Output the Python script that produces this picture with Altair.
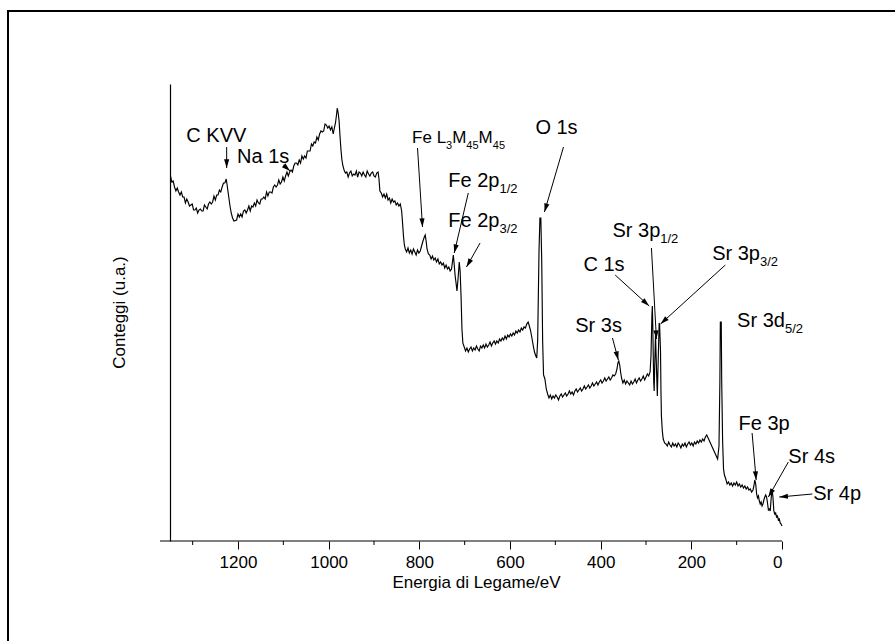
import math
import re

import altair as alt
import pandas as pd

# XPS survey spectrum, binding energy (eV) and counts (arbitrary units), region by region
e_ckvv = [1349, 1346, 1343, 1340, 1337, 1334, 1331, 1328, 1325, 1322, 1319, 1316, 1313, 1310,
          1307, 1304, 1301, 1298, 1295, 1292, 1289, 1286, 1283, 1280, 1277, 1274, 1271, 1268,
          1265, 1262, 1259, 1256, 1253, 1250, 1247, 1244, 1241, 1238, 1235, 1232, 1229, 1226,
          1224, 1221, 1218, 1215, 1212, 1209]
c_ckvv = [365, 359, 360, 354, 350, 353, 349, 346, 349, 344, 344, 338, 342, 339,
          335, 336, 337, 331, 331, 333, 328, 331, 332, 330, 330, 336, 334, 332,
          337, 339, 337, 339, 345, 341, 346, 346, 351, 349, 354, 358, 358, 362,
          356, 346, 336, 328, 323, 320]

e_okll = [1203, 1200, 1197, 1194, 1191, 1188, 1185, 1182, 1179, 1176, 1173, 1170, 1167, 1164,
          1161, 1158, 1155, 1152, 1149, 1146, 1143, 1140, 1137, 1134, 1131, 1128, 1125, 1122,
          1119, 1116, 1113, 1110, 1107, 1104, 1101, 1098, 1095, 1092, 1089, 1086, 1083, 1080,
          1077, 1074, 1071, 1068, 1065, 1062, 1059, 1056, 1053, 1050, 1047, 1044, 1041, 1038,
          1035, 1032, 1029, 1026, 1023, 1020, 1017, 1014, 1011, 1008, 1005, 1002, 999, 996,
          993, 990, 987, 985, 983, 981, 979, 977, 975, 973, 971, 969, 966, 963]
c_okll = [321, 327, 324, 327, 324, 330, 331, 328, 331, 335, 330, 335, 334, 338,
          335, 341, 338, 337, 342, 342, 344, 342, 349, 345, 349, 349, 348, 354,
          356, 354, 356, 361, 357, 359, 364, 360, 365, 369, 365, 369, 371, 369,
          375, 378, 378, 376, 381, 378, 385, 382, 385, 383, 390, 390, 390, 397,
          395, 399, 398, 404, 401, 407, 410, 409, 410, 417, 416, 413, 415, 411,
          414, 407, 414, 418, 425, 433, 428, 420, 405, 392, 382, 376, 371, 368]

e_plateau = [960, 957, 954, 951, 948, 945, 942, 939, 936, 933, 930, 927, 924, 921, 918, 915,
             912, 909, 906, 903, 900, 897, 894, 891, 889, 887,
             884, 881, 878, 875, 872, 869, 866, 863, 860, 857, 854, 851, 848, 845, 842,
             839, 837, 835, 833]
c_plateau = [369, 364, 368, 370, 365, 367, 366, 370, 364, 369, 368, 365, 369, 366, 364, 370,
             367, 365, 368, 369, 365, 364, 368, 369, 362, 350,
             348, 344, 347, 343, 347, 341, 343, 338, 342, 339, 340, 336, 338, 335, 337,
             330, 318, 305, 296]

e_fe = [831, 828, 825, 822, 819, 816, 813, 810, 807, 804, 801, 798, 795, 792, 789, 787,
        785, 783, 780, 777, 774, 771, 768, 765, 762, 759, 756, 753, 750, 747, 744, 741,
        738, 735, 732, 729, 727, 725, 723, 721, 719, 717, 715, 713, 712, 710, 708, 706, 704]
c_fe = [292, 289, 293, 288, 291, 287, 292, 289, 286, 291, 288, 290, 295, 300, 304, 306,
        300, 292, 287, 286, 282, 285, 281, 283, 279, 282, 277, 279, 276, 278, 273, 276,
        272, 274, 270, 272, 279, 286, 276, 265, 258, 250, 260, 272, 279, 270, 245, 212, 198]

e_o1s = [701, 698, 695, 692, 689, 686, 683, 680, 677, 674, 671, 668, 665, 662, 659, 656,
         653, 650, 647, 644, 641, 638, 635, 632, 629, 626, 623, 620, 617, 614, 611, 608,
         605, 602, 599, 596, 593, 590, 587, 584, 581, 578, 575, 572, 569, 566, 563,
         560, 558, 555, 552, 549, 546, 543, 541, 539, 536, 534, 532, 530, 528, 526, 523,
         520, 517, 514]
c_o1s = [194, 190, 193, 189, 192, 194, 190, 193, 191, 195, 192, 190, 195, 193, 196, 193,
         197, 194, 196, 199, 195, 198, 200, 197, 200, 198, 202, 200, 203, 201, 205, 202,
         206, 204, 207, 205, 208, 206, 210, 208, 211, 209, 213, 211, 214, 213, 217,
         219, 216, 211, 204, 196, 189, 185, 183, 200, 290, 323, 323, 280, 200, 166, 162,
         152, 147, 143]

e_sr3 = [511, 508, 505, 502, 499, 496, 493, 490, 487, 484, 481, 478, 475, 472, 469, 466,
         463, 460, 457, 454, 451, 448, 445, 442, 439, 436, 433, 430, 427, 424, 421, 418,
         415, 412, 409, 406, 403, 400, 397, 394, 391, 388, 385, 382, 379, 376, 373, 370,
         367, 364, 362, 360, 358, 356, 354, 351, 348, 345, 342, 339, 336, 333, 330, 327,
         324, 321, 318, 315, 312, 309, 306, 303, 300, 297, 294, 291,
         289, 287, 286, 285, 284, 283, 282, 280, 279, 278, 276, 275, 274, 272, 271, 270,
         268, 267, 266, 264, 262, 259]
c_sr3 = [146, 142, 145, 143, 146, 144, 141, 145, 147, 144, 146, 148, 145, 147, 150, 147,
         149, 146, 150, 152, 149, 151, 153, 150, 152, 155, 152, 154, 156, 153, 155, 158,
         155, 157, 159, 156, 159, 161, 158, 160, 163, 160, 162, 164, 161, 163, 166, 165,
         167, 172, 178, 180, 176, 169, 163, 158, 161, 157, 160, 158, 156, 160, 157, 159,
         162, 158, 161, 163, 160, 162, 165, 161, 164, 167, 165, 169,
         185, 225, 235, 215, 185, 160, 150, 190, 206, 190, 160, 145, 165, 200, 218, 216,
         190, 150, 125, 110, 102, 98]

e_sr3d = [256, 253, 250, 247, 244, 241, 238, 235, 232, 229, 226, 223, 220, 217, 214, 211,
          208, 205, 202, 199, 196, 193, 190, 187, 184, 181, 178, 175, 172, 169, 166, 163,
          160, 157, 154, 151, 148, 145, 142, 139, 137, 136, 134, 133, 131, 129]
c_sr3d = [97, 95, 99, 96, 94, 98, 95, 97, 94, 98, 96, 93, 97, 95, 98, 94,
          97, 99, 96, 98, 95, 99, 97, 100, 98, 101, 99, 102, 100, 104, 106, 103,
          100, 97, 94, 91, 88, 85, 82, 95, 160, 219, 219, 160, 100, 72]

e_valence = [127, 124, 121, 118, 115, 112, 109, 106, 103, 100, 97, 94, 91, 88, 85, 82,
             79, 76, 73, 70, 67, 64, 62, 60, 58, 56, 54, 52, 50, 48, 46, 44,
             42, 40, 38, 36, 34, 32, 30, 28, 26, 24, 22, 20, 18, 16, 14, 12,
             10, 8, 6, 4, 2, 0]
c_valence = [66, 62, 57, 59, 56, 58, 55, 58, 56, 59, 55, 57, 54, 56, 53, 55,
             52, 54, 51, 52, 49, 51, 55, 61, 57, 47, 43, 45, 40, 37, 39, 35,
             37, 41, 44, 46, 44, 38, 31, 32, 30, 42, 52, 44, 30, 27, 28, 24,
             25, 21, 22, 18, 17, 15]

energy = e_ckvv + e_okll + e_plateau + e_fe + e_o1s + e_sr3 + e_sr3d + e_valence
counts = c_ckvv + c_okll + c_plateau + c_fe + c_o1s + c_sr3 + c_sr3d + c_valence

# Peak labels (subscripts written as _{...}), where each starts, and font size
label_text = [
    "C KVV", "Na 1s", "Fe L_{3}M_{45}M_{45}", "Fe 2p_{1/2}", "Fe 2p_{3/2}", "O 1s",
    "Sr 3s", "C 1s", "Sr 3p_{1/2}", "Sr 3p_{3/2}", "Sr 3d_{5/2}", "Fe 3p", "Sr 4s", "Sr 4p",
]
label_energy = [1314, 1202, 816, 736, 736, 544, 456, 438, 374, 154, 99, 96, -14, -69]
label_counts = [405, 384, 403, 360, 320, 413, 215, 276, 310, 287, 220, 117, 84, 47]
label_size = [20, 20, 17, 20, 20, 20, 20, 20, 20, 20, 20, 20, 20, 20]

# Arrows from label to peak: (start energy, start counts) -> (tip energy, tip counts)
arrow_from_e = [1225, 1100, 804, 692, 666, 482, 374, 368, 288, 125, 66, -14, -67]
arrow_from_c = [394, 376, 393, 348, 298, 394, 203, 266, 293, 276, 108, 79, 47]
arrow_to_e = [1225, 1085, 793, 723, 696, 524, 361, 293, 277, 268, 57, 30, 6]
arrow_to_c = [373, 370, 314, 288, 274, 329, 181, 235, 202, 217, 61, 44, 44]

WIDTH, HEIGHT = 612, 457
PAD_LEFT, PAD_TOP = 170, 84
PAGE_W, PAGE_H = 895, 641
E_MAX = 1350
PX_PER_EV = WIDTH / E_MAX
FONT = "Liberation Sans"

# Arial / Liberation Sans advance widths (1/1000 em)
ADV = {" ": 278, "/": 278, "1": 556, "2": 556, "3": 556, "4": 556, "5": 556,
       "C": 722, "K": 667, "V": 667, "N": 722, "a": 556, "s": 500, "F": 611,
       "e": 556, "L": 556, "M": 833, "p": 556, "O": 778, "S": 667, "r": 333, "d": 556}


def text_width(s, size):
    return sum(ADV.get(ch, 556) for ch in s) * size / 1000.0


# Split each label into normal and subscript runs laid out left to right
pieces = []
for txt, e0, c0, fs in zip(label_text, label_energy, label_counts, label_size):
    cursor = 0.0
    sub_fs = round(fs * 0.65)
    for run, sub in re.findall(r"([^_]+)|_\{([^}]*)\}", txt):
        is_sub = bool(sub)
        s = sub if is_sub else run
        size = sub_fs if is_sub else fs
        pieces.append({
            "E": e0 - cursor / PX_PER_EV,
            "c": c0 - (8 if is_sub else 0),
            "t": s,
            "size": size,
        })
        cursor += text_width(s, size)
label_df = pd.DataFrame(pieces)

arrow_rows = []
for e1, c1, e2, c2 in zip(arrow_from_e, arrow_from_c, arrow_to_e, arrow_to_c):
    dxp = (e1 - e2) * PX_PER_EV
    dyp = -(c2 - c1)
    ang = (math.degrees(math.atan2(dxp, -dyp)) + 360) % 360
    arrow_rows.append({"E": e1, "c": c1, "E2": e2, "c2": c2, "angle": ang})
arrow_df = pd.DataFrame(arrow_rows)

spec_df = pd.DataFrame({"E": energy, "c": counts})
major_ticks = [0, 200, 400, 600, 800, 1000, 1200]
minor_df = pd.DataFrame({"E": [100, 300, 500, 700, 900, 1100, 1300]})
one_row = pd.DataFrame({"k": [0]})

x_scale = alt.Scale(domain=[E_MAX, 0], nice=False, zero=False)
y_scale = alt.Scale(domain=[0, HEIGHT], nice=False, zero=False)

spectrum = alt.Chart(spec_df).mark_line(color="black", strokeWidth=1.15).encode(
    x=alt.X(
        "E:Q", scale=x_scale,
        axis=alt.Axis(
            values=major_ticks, format="d", domain=False, grid=False,
            tickSize=8, tickWidth=1, tickColor="black",
            labelFont=FONT, labelFontSize=17, labelColor="black", labelPadding=5,
            title="Energia di Legame/eV", titleFont=FONT, titleFontSize=17,
            titleFontWeight="normal", titleColor="black", titlePadding=4,
        ),
    ),
    y=alt.Y(
        "c:Q", scale=y_scale,
        axis=alt.Axis(
            domain=True, domainColor="black", domainWidth=1.2, ticks=False,
            labels=False, grid=False, title=None,
        ),
    ),
    order="E:Q",
)

# x axis line, running slightly past the y axis on the left
x_line = alt.Chart(one_row).mark_rule(color="black", strokeWidth=1.2).encode(
    x=alt.value(-10), x2=alt.value(WIDTH), y=alt.value(HEIGHT)
)

minor = alt.Chart(minor_df).mark_rule(color="black", strokeWidth=1).encode(
    x="E:Q", y=alt.value(HEIGHT), y2=alt.value(HEIGHT + 4)
)

arrow_lines = alt.Chart(arrow_df).mark_rule(color="black", strokeWidth=1).encode(
    x="E:Q", y="c:Q", x2="E2:Q", y2="c2:Q"
)
arrow_heads = alt.Chart(arrow_df).mark_point(
    shape="M0,0L-0.3,1L0.3,1Z", filled=True, color="black", opacity=1, size=300
).encode(
    x="E2:Q", y="c2:Q", angle=alt.Angle("angle:Q", scale=None)
)

labels = alt.Chart(label_df).mark_text(
    align="left", baseline="middle", font=FONT, color="black"
).encode(
    x="E:Q", y="c:Q", text="t:N", size=alt.Size("size:Q", scale=None)
)

y_title = alt.Chart(one_row).mark_text(
    text="Conteggi (u.a.)", angle=270, align="center", baseline="middle",
    font=FONT, fontSize=17, color="black"
).encode(x=alt.value(-50), y=alt.value(HEIGHT / 2))

# page frame: only its top and left edges fall inside the page
frame_top = alt.Chart(one_row).mark_rule(color="black", strokeWidth=2).encode(
    x=alt.value(7 - PAD_LEFT), x2=alt.value(PAGE_W - PAD_LEFT), y=alt.value(11 - PAD_TOP)
)
frame_left = alt.Chart(one_row).mark_rule(color="black", strokeWidth=2).encode(
    x=alt.value(8 - PAD_LEFT), y=alt.value(10 - PAD_TOP), y2=alt.value(PAGE_H - PAD_TOP)
)

chart = alt.layer(
    frame_top, frame_left, spectrum, x_line, minor, arrow_lines, arrow_heads, labels, y_title
).properties(
    width=WIDTH, height=HEIGHT,
    autosize=alt.AutoSizeParams(type="none"),
    padding={"left": PAD_LEFT, "top": PAD_TOP,
             "right": PAGE_W - PAD_LEFT - WIDTH, "bottom": PAGE_H - PAD_TOP - HEIGHT},
).configure_view(stroke=None)

chart.save("out.html", embed_options={"renderer": "svg", "actions": False})
